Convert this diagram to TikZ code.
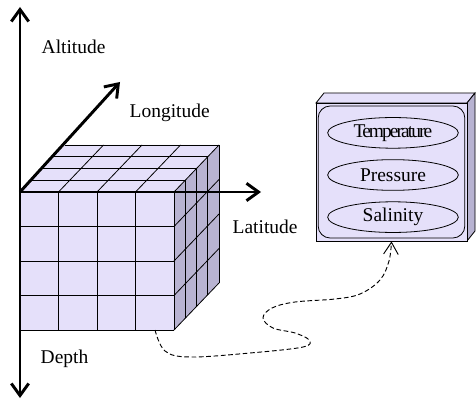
\documentclass[tikz,border=0pt]{standalone}
\usepackage{fontspec}
\setmainfont{Liberation Serif}
\usetikzlibrary{arrows.meta, shapes.geometric, positioning}

\definecolor{cellfront}{RGB}{229,224,250}
\definecolor{cellside}{RGB}{184,179,209}

\tikzset{
  axis/.style={line width=2.2pt, -{Straight Barb[length=9pt,width=13pt]}},
  gridline/.style={line width=0.6pt},
  lbl/.style={anchor=base west, font=\fontsize{14.6}{17}\selectfont},
  prop/.style={ellipse, draw, line width=0.6pt, minimum width=98pt, minimum height=23pt,
    inner sep=0pt, font=\fontsize{14.6}{17}\selectfont},
  link/.style={line width=0.7pt, dash pattern=on 3.5pt off 2pt,
    -{Straight Barb[length=9pt,width=11pt]}}
}

\begin{document}
\begin{tikzpicture}[x=0.75pt, y=0.75pt]
\useasboundingbox (0,0) rectangle (476,401);

% Cube of cells
\begin{scope}
\fill[cellfront] (20,209) -- (174,209) -- (219,256) -- (65,256) -- cycle;
\fill[cellside] (174,71) -- (219,118) -- (219,256) -- (174,209) -- cycle;
\fill[cellfront] (20,71) rectangle (174,209);
% front face
\foreach \i in {0,...,4} \draw[gridline] (20+38.5*\i,71) -- (20+38.5*\i,209);
\foreach \j in {0,...,4} \draw[gridline] (20,71+34.5*\j) -- (174,71+34.5*\j);
% top face
\foreach \k in {1,...,4} \draw[gridline] (20+11.25*\k,209+11.75*\k) -- (174+11.25*\k,209+11.75*\k);
\foreach \i in {1,...,4} \draw[gridline] (20+38.5*\i,209) -- ++(45,47);
% side face
\foreach \k in {1,...,4} \draw[gridline] (174+11.25*\k,71+11.75*\k) -- (174+11.25*\k,209+11.75*\k);
\foreach \j in {0,...,3} \draw[gridline] (174,71+34.5*\j) -- ++(45,47);
\coordinate (cellout) at (155,71);
\end{scope}

% Axes
\coordinate (origin) at (20,209);
\coordinate (alt) at (20,394);
\coordinate (dep) at (20,3);
\coordinate (lat) at (261,209);
\coordinate (lon) at (120,319);
\draw[axis] (origin) -- (alt);
\draw[axis] (origin) -- (dep);
\draw[axis] (origin) -- (lat);
\draw[axis] (origin) -- (lon);

\node[lbl] (altlabel) at (37,348) {Altitude};
\node[lbl] (lonlabel) at (125,283) {Longitude};
\node[lbl] (latlabel) at (228,168) {Latitude};
\node[lbl] (deplabel) at (36,38) {Depth};

% Probe box
\fill[cellfront, draw=black, line width=0.6pt] (316,298) -- (467,298) -- (475,308) -- (324,308) -- cycle;
\fill[cellside, draw=black, line width=0.6pt] (467,160) -- (475,170) -- (475,308) -- (467,298) -- cycle;
\node[draw, line width=0.6pt, fill=cellfront, minimum width=113.25pt, minimum height=103.5pt,
  inner sep=0pt] (probe) at (391.5,229) {};
\node[draw, line width=0.6pt, rounded corners=9pt, minimum width=110pt, minimum height=99pt,
  inner sep=0pt] (frame) at (probe.center) {};

\node[prop] (pres) at (393,226) {Pressure};
\node[prop, above=8pt of pres] (temp) {\addfontfeature{LetterSpace=-10}Temperature};
\node[prop, below=8pt of pres] (sal) {Salinity};

\draw[link] plot[smooth, tension=0.6] coordinates {(cellout) (165,50) (190,44) (250,48) (303,54)
  (309,61) (295,68) (273,73) (263,83) (272,93) (295,99) (335,102) (360,107) (380,121) (389,140)
  (probe.south)};
\end{tikzpicture}
\end{document}
